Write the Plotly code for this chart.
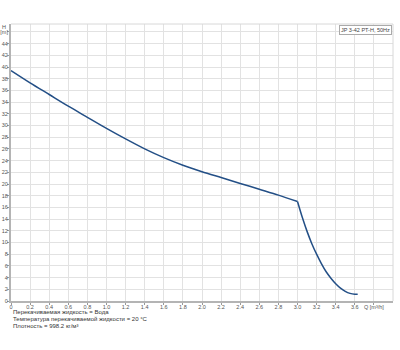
import plotly.graph_objects as go

# Pump curve data (Q in m3/h, H in m): stable part and steep drop part (share the knee point)
q_main = [0.0, 0.2, 0.4, 0.6, 0.8, 1.0, 1.2, 1.4, 1.6, 1.8, 2.0, 2.2, 2.4, 2.6, 2.8, 3.0]
h_main = [39.4, 37.3, 35.3, 33.3, 31.4, 29.5, 27.7, 26.0, 24.5, 23.2, 22.1, 21.1, 20.1, 19.1, 18.1, 17.0]
q_drop = [3.0, 3.05, 3.1, 3.15, 3.2, 3.25, 3.3, 3.35, 3.4, 3.45, 3.5, 3.55, 3.6, 3.63]
h_drop = [17.0, 14.3, 11.9, 9.8, 8.0, 6.4, 5.0, 3.9, 2.95, 2.2, 1.65, 1.3, 1.15, 1.15]

x_tick_vals = [0, 0.2, 0.4, 0.6, 0.8, 1.0, 1.2, 1.4, 1.6, 1.8, 2.0, 2.2, 2.4, 2.6, 2.8, 3.0, 3.2, 3.4, 3.6, 3.8]
x_tick_text = ["0", "0.2", "0.4", "0.6", "0.8", "1.0", "1.2", "1.4", "1.6", "1.8", "2.0", "2.2", "2.4",
               "2.6", "2.8", "3.0", "3.2", "3.4", "3.6", "Q [m³/h]"]
y_tick_vals = list(range(0, 47, 2))
y_tick_text = [str(v) for v in range(0, 45, 2)] + ["[m]"]

series_name = "JP 3-42 PT-H, 50Hz"
info_lines = ["Перекачиваемая жидкость = Вода",
              "Температура перекачиваемой жидкости = 20 °C",
              "Плотность = 998.2 кг/м³"]

line_style = dict(color="#234f86", width=1.5, shape="spline", smoothing=0.8)
fig = go.Figure()
fig.add_trace(go.Scatter(x=q_main, y=h_main, mode="lines", line=line_style,
                         name=series_name, showlegend=False))
fig.add_trace(go.Scatter(x=q_drop, y=h_drop, mode="lines", line=line_style,
                         name=series_name, showlegend=False))

font_family = "Liberation Sans, Arial, sans-serif"
W, H = 400, 350
ml, mr, mt, mb = 11, 7, 24, 49
plot_h = H - mt - mb

axis_common = dict(showgrid=True, gridcolor="#e2e2e2", gridwidth=1,
                   showline=True, linecolor="#b4b4b4", linewidth=2,
                   ticks="outside", ticklen=2, tickcolor="#999",
                   tickfont=dict(size=5.5, color="#555", family=font_family),
                   zeroline=False, mirror=False, fixedrange=True, automargin=False)

fig.update_layout(
    width=W, height=H,
    margin=dict(l=ml, r=mr, t=mt, b=mb, pad=0, autoexpand=False),
    paper_bgcolor="white", plot_bgcolor="white",
    font=dict(family=font_family, size=6, color="#444"),
    xaxis=dict(range=[0, 4.0], tickmode="array", tickvals=x_tick_vals, ticktext=x_tick_text,
               ticklabelstandoff=-3, **axis_common),
    yaxis=dict(range=[0, 47.35], tickmode="array", tickvals=y_tick_vals, ticktext=y_tick_text,
               ticklabelstandoff=-2, **axis_common),
    shapes=[
        dict(type="line", xref="paper", yref="paper", x0=0, x1=1, y0=1, y1=1,
             line=dict(color="#d8d8d8", width=1)),
        dict(type="line", xref="paper", yref="paper", x0=1, x1=1, y0=0, y1=1,
             line=dict(color="#d8d8d8", width=1)),
    ],
)

annotations = [
    dict(text=series_name, xref="paper", yref="paper", x=0.997, y=0.997,
         xanchor="right", yanchor="top", showarrow=False,
         font=dict(size=5.5, color="#444"), bordercolor="#aaa", borderwidth=1,
         borderpad=1, bgcolor="white"),
    dict(text="H", xref="paper", yref="paper", x=0, xshift=-3, y=(H - mb - 27) / plot_h,
         xanchor="right", yanchor="middle", showarrow=False, font=dict(size=5.5, color="#555")),
]
for i, line in enumerate(info_lines):
    ypix = 312 + i * 7
    annotations.append(dict(text=line, xref="paper", yref="paper", x=0, y=(H - mb - ypix) / plot_h,
                            xanchor="left", yanchor="middle", showarrow=False,
                            font=dict(size=6, color="#333")))
fig.update_layout(annotations=annotations)

fig.write_html("out.html")
